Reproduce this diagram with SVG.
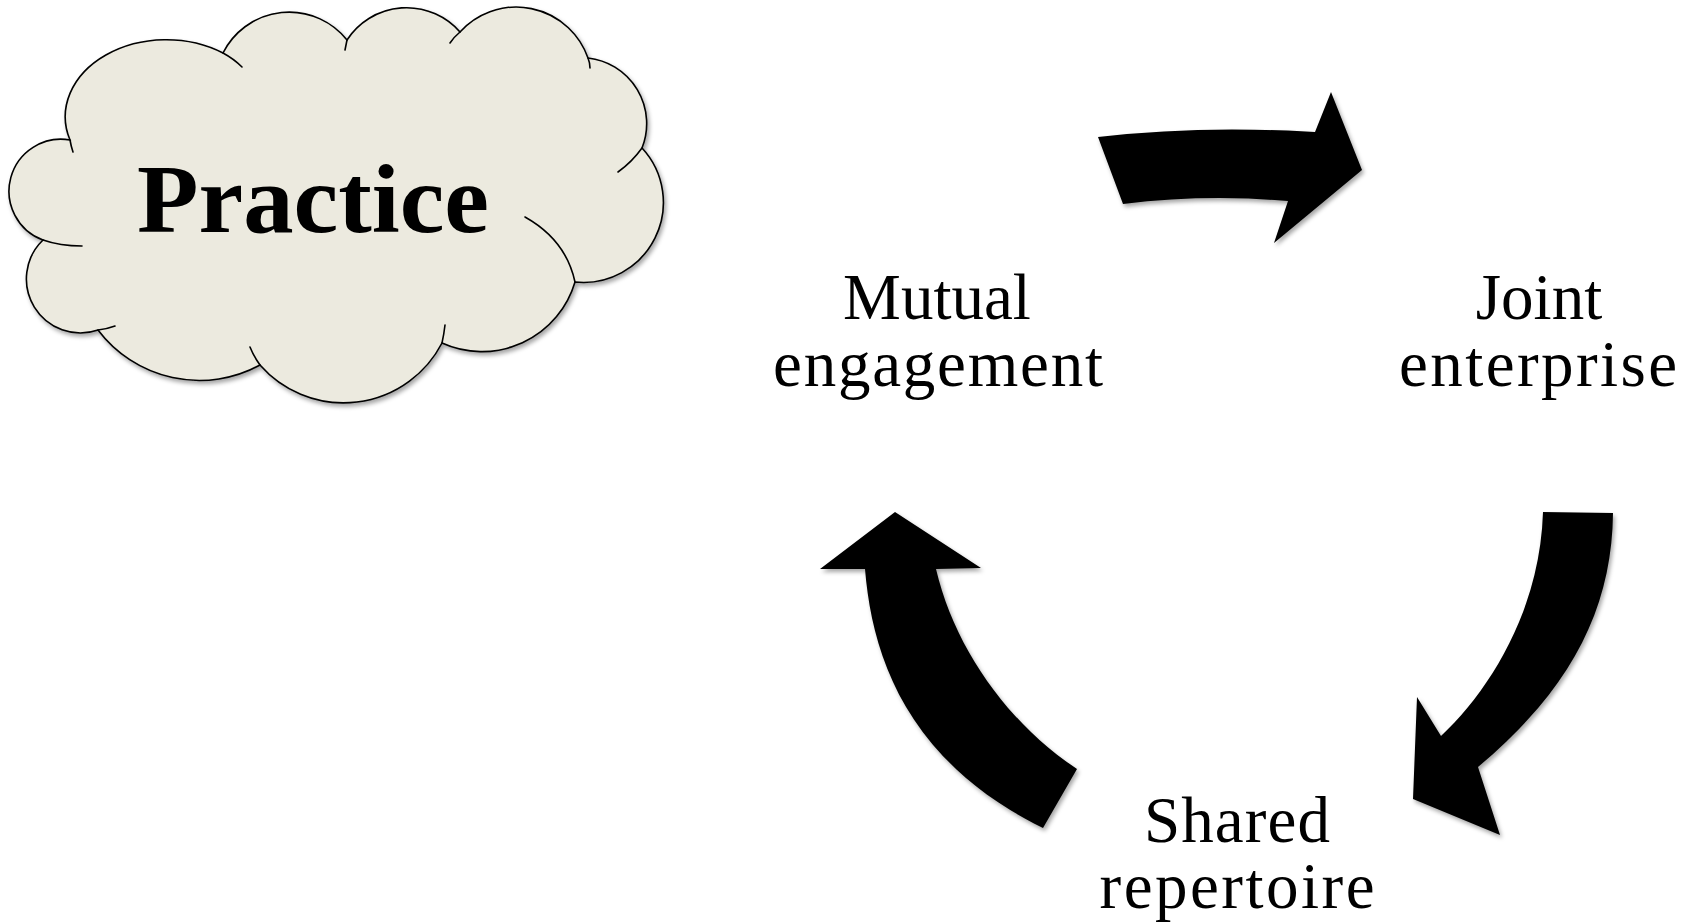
<svg xmlns="http://www.w3.org/2000/svg" width="1694" height="922" viewBox="0 0 1694 922">
  <defs>
    <filter id="shadow" x="-10%" y="-10%" width="130%" height="130%">
      <feDropShadow dx="2" dy="3" stdDeviation="2" flood-color="#000" flood-opacity="0.35"/>
    </filter>
    <style>
      .cloud { fill: #ECEADF; stroke: #000; stroke-width: 1.6; }
      .stub { fill: none; stroke: #000; stroke-width: 1.6; stroke-linecap: round; }
      .arrow { fill: #000; stroke: none; filter: url(#shadow); }
      .label { font-family: "Liberation Serif", "DejaVu Serif", serif; font-size: 65px; fill: #000; text-anchor: middle; }
      .title { font-family: "Liberation Serif", "DejaVu Serif", serif; font-size: 98px; font-weight: bold; fill: #000; text-anchor: middle; }
    </style>
  </defs>
  <rect width="1694" height="922" fill="#fff"/>

  <g id="practice">
    <path class="cloud" filter="url(#shadow)" d="M70,140 A101,77 0 0 1 223,53 A74,74 0 0 1 347,40 A71,71 0 0 1 460,32 A76,76 0 0 1 588,58 A66,66 0 0 1 642,148 A80,80 0 0 1 575,282 A97,97 0 0 1 442,343 A111,111 0 0 1 260,365 A127,127 0 0 1 98,330 A54,54 0 0 1 43,240 A52,52 0 0 1 70,140 Z"/>
    <path class="stub" d="M223,53 Q234,59 242,67"/>
    <path class="stub" d="M70,140 Q71,146 73,152"/>
    <path class="stub" d="M347,40 Q346,45 345,50"/>
    <path class="stub" d="M450,43 Q454,37 460,32"/>
    <path class="stub" d="M588,58 Q590,63 590,68"/>
    <path class="stub" d="M642,148 Q632,162 618,172"/>
    <path class="stub" d="M525,217 Q566,240 575,282"/>
    <path class="stub" d="M445,325 Q444,334 442,343"/>
    <path class="stub" d="M250,347 Q254,357 260,365"/>
    <path class="stub" d="M98,330 Q107,329 115,326"/>
    <path class="stub" d="M43,240 Q60,246 82,246"/>
    <text class="title" x="313" y="232" textLength="352" lengthAdjust="spacingAndGlyphs">Practice</text>
  </g>

  <g id="mutual-engagement">
    <text class="label" x="937" y="319">Mutual</text>
    <text class="label" x="938" y="386" textLength="330" lengthAdjust="spacing">engagement</text>
  </g>

  <g id="joint-enterprise">
    <text class="label" x="1539" y="319">Joint</text>
    <text class="label" x="1538" y="386" textLength="278" lengthAdjust="spacing">enterprise</text>
  </g>

  <g id="shared-repertoire">
    <text class="label" x="1237" y="842" textLength="186" lengthAdjust="spacing">Shared</text>
    <text class="label" x="1237" y="908" textLength="275" lengthAdjust="spacing">repertoire</text>
  </g>

  <g id="connectors">
    <path class="arrow" d="M1098,137 Q1200,125 1315,132 L1331,92 L1362,170 L1274,243 L1288,201 Q1205,194 1123,204 Z"/>
    <path class="arrow" d="M1543,512 L1613,513 C1612,610 1570,690 1478,767 L1500,835 L1413,799 L1417,697 L1441,736 C1490,690 1540,610 1543,512 Z"/>
    <path class="arrow" d="M895,512 L981,568 L936,569 C955,650 1010,725 1077,769 L1043,828 C905,760 872,654 865,569 L820,569 Z"/>
  </g>
</svg>
